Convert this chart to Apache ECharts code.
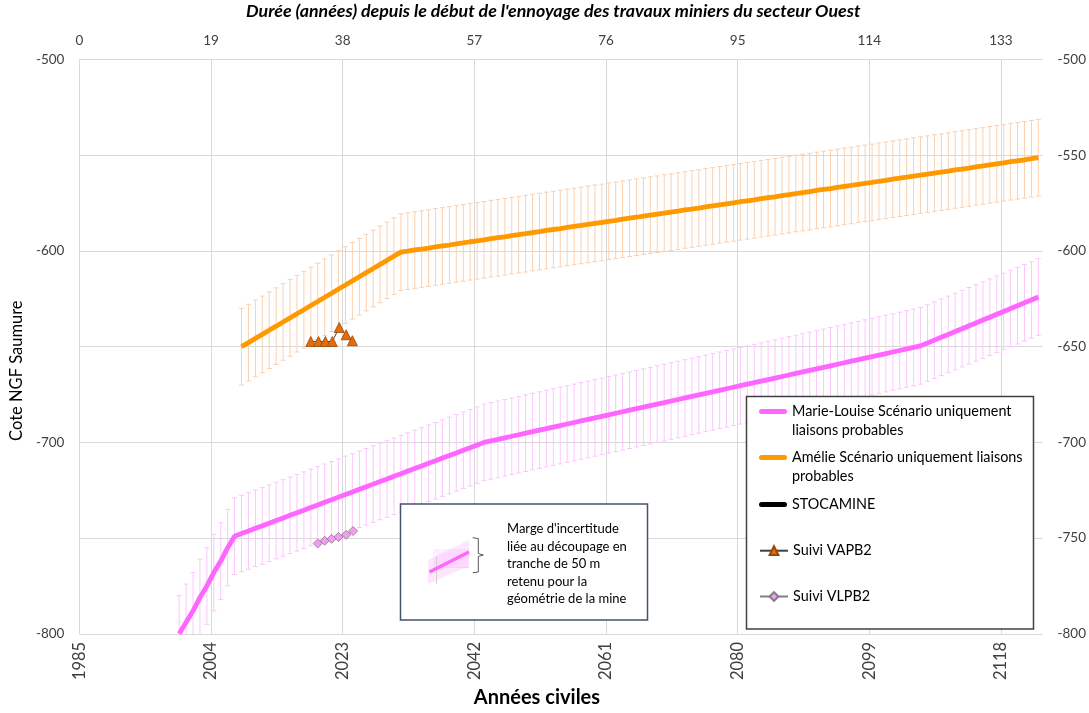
<!DOCTYPE html>
<html><head><meta charset="utf-8">
<script src="https://cdn.jsdelivr.net/npm/echarts@6/dist/echarts.min.js"></script>
<style>html,body{margin:0;padding:0;background:#fff}#c{width:1089px;height:713px}</style>
</head><body><div id="c"></div>
<script>
// ---- data ----
const START_YEAR = 1985;            // début de l'ennoyage (durée 0)
const DUREE_MAX = 139;
const X_INTERVAL = 19;
const UNCERTAINTY = 20;             // marge d'incertitude (m)

const pinkYears = [
  1999.4,2000.4,2001.4,2002.4,2003.4,2004.4,2005.4,2006.4,2007.4,2008.4,
  2009.4,2010.4,2011.4,2012.4,2013.4,2014.4,2015.4,2016.4,2017.4,2018.4,
  2019.4,2020.4,2021.4,2022.4,2023.4,2024.4,2025.4,2026.4,2027.4,2028.4,
  2029.4,2030.4,2031.4,2032.4,2033.4,2034.4,2035.4,2036.4,2037.4,2038.4,
  2039.4,2040.4,2041.4,2042.4,2043.4,2044.4,2045.4,2046.4,2047.4,2048.4,
  2049.4,2050.4,2051.4,2052.4,2053.4,2054.4,2055.4,2056.4,2057.4,2058.4,
  2059.4,2060.4,2061.4,2062.4,2063.4,2064.4,2065.4,2066.4,2067.4,2068.4,
  2069.4,2070.4,2071.4,2072.4,2073.4,2074.4,2075.4,2076.4,2077.4,2078.4,
  2079.4,2080.4,2081.4,2082.4,2083.4,2084.4,2085.4,2086.4,2087.4,2088.4,
  2089.4,2090.4,2091.4,2092.4,2093.4,2094.4,2095.4,2096.4,2097.4,2098.4,
  2099.4,2100.4,2101.4,2102.4,2103.4,2104.4,2105.4,2106.4,2107.4,2108.4,
  2109.4,2110.4,2111.4,2112.4,2113.4,2114.4,2115.4,2116.4,2117.4,2118.4,
  2119.4,2120.4,2121.4,2122.4,2123.4
];
const pinkValues = [
  -800,-794,-788,-781,-775,-768,-762,-755,-749,-747.6,
  -746.3,-744.9,-743.6,-742.2,-740.8,-739.5,-738.1,-736.8,-735.4,-734.0,
  -732.7,-731.3,-730.0,-728.6,-727.2,-725.9,-724.5,-723.2,-721.8,-720.4,
  -719.1,-717.7,-716.4,-715.0,-713.6,-712.3,-710.9,-709.6,-708.2,-706.8,
  -705.5,-704.1,-702.8,-701.4,-700.0,-699.2,-698.4,-697.6,-696.8,-696.0,
  -695.2,-694.4,-693.6,-692.8,-692.0,-691.2,-690.4,-689.6,-688.8,-688.0,
  -687.2,-686.4,-685.6,-684.8,-684.0,-683.2,-682.4,-681.6,-680.8,-680.0,
  -679.2,-678.4,-677.6,-676.8,-676.0,-675.2,-674.4,-673.6,-672.8,-672.0,
  -671.2,-670.4,-669.6,-668.8,-668.0,-667.2,-666.4,-665.6,-664.8,-664.0,
  -663.2,-662.4,-661.6,-660.8,-660.0,-659.2,-658.4,-657.6,-656.8,-656.0,
  -655.2,-654.4,-653.6,-652.8,-652.0,-651.2,-650.4,-649.6,-648.1,-646.6,
  -645.1,-643.6,-642.1,-640.6,-639.1,-637.6,-636.1,-634.6,-633.1,-631.6,
  -630.1,-628.6,-627.1,-625.6,-624.1
];
const orangeYears = [
  2008.4,2009.4,2010.4,2011.4,2012.4,2013.4,2014.4,2015.4,2016.4,2017.4,
  2018.4,2019.4,2020.4,2021.4,2022.4,2023.4,2024.4,2025.4,2026.4,2027.4,
  2028.4,2029.4,2030.4,2031.4,2032.4,2033.4,2034.4,2035.4,2036.4,2037.4,
  2038.4,2039.4,2040.4,2041.4,2042.4,2043.4,2044.4,2045.4,2046.4,2047.4,
  2048.4,2049.4,2050.4,2051.4,2052.4,2053.4,2054.4,2055.4,2056.4,2057.4,
  2058.4,2059.4,2060.4,2061.4,2062.4,2063.4,2064.4,2065.4,2066.4,2067.4,
  2068.4,2069.4,2070.4,2071.4,2072.4,2073.4,2074.4,2075.4,2076.4,2077.4,
  2078.4,2079.4,2080.4,2081.4,2082.4,2083.4,2084.4,2085.4,2086.4,2087.4,
  2088.4,2089.4,2090.4,2091.4,2092.4,2093.4,2094.4,2095.4,2096.4,2097.4,
  2098.4,2099.4,2100.4,2101.4,2102.4,2103.4,2104.4,2105.4,2106.4,2107.4,
  2108.4,2109.4,2110.4,2111.4,2112.4,2113.4,2114.4,2115.4,2116.4,2117.4,
  2118.4,2119.4,2120.4,2121.4,2122.4,2123.4
];
const orangeValues = [
  -650.0,-647.9,-645.7,-643.6,-641.4,-639.3,-637.1,-635.0,-632.8,-630.7,
  -628.5,-626.4,-624.2,-622.1,-619.9,-617.8,-615.6,-613.5,-611.3,-609.2,
  -607.0,-604.9,-602.7,-600.6,-600.1,-599.5,-599.0,-598.5,-597.9,-597.4,
  -596.9,-596.3,-595.8,-595.2,-594.7,-594.2,-593.6,-593.1,-592.6,-592.0,
  -591.5,-591.0,-590.4,-589.9,-589.3,-588.8,-588.3,-587.7,-587.2,-586.7,
  -586.1,-585.6,-585.1,-584.5,-584.0,-583.4,-582.9,-582.4,-581.8,-581.3,
  -580.8,-580.2,-579.7,-579.2,-578.6,-578.1,-577.6,-577.0,-576.5,-575.9,
  -575.4,-574.9,-574.3,-573.8,-573.3,-572.7,-572.2,-571.7,-571.1,-570.6,
  -570.0,-569.5,-569.0,-568.4,-567.9,-567.4,-566.8,-566.3,-565.8,-565.2,
  -564.7,-564.2,-563.6,-563.1,-562.5,-562.0,-561.5,-560.9,-560.4,-559.9,
  -559.3,-558.8,-558.3,-557.7,-557.2,-556.7,-556.1,-555.6,-555.0,-554.5,
  -554.0,-553.4,-552.9,-552.4,-551.8,-551.3
];
const vapbYears  = [2018.4, 2019.5, 2020.5, 2021.5, 2022.5, 2023.5, 2024.4];
const vapbValues = [-647.3, -647.3, -647.3, -647.3, -640.0, -643.8, -646.9];
const vlpbYears  = [2019.4, 2020.4, 2021.4, 2022.4, 2023.5, 2024.5];
const vlpbValues = [-752.8, -751.4, -750.4, -749.4, -748.3, -746.3];

const NAME_ML = 'Marie-Louise Scénario uniquement liaisons probables';
const NAME_AM = 'Amélie Scénario uniquement liaisons probables';
const NAME_ST = 'STOCAMINE';
const NAME_VA = 'Suivi VAPB2';
const NAME_VL = 'Suivi VLPB2';

const FONT = "Lato, 'Liberation Sans', sans-serif";
const PINK = '#FF66FF', ORANGE = '#FF9900';
const PILL = 'path://M2.5,0 L25.5,0 A2.5,2.5 0 0 1 25.5,5 L2.5,5 A2.5,2.5 0 0 1 2.5,0 Z';

// ---- build library structures ----
const toPts = (ys, vs) => ys.map((y, i) => [+(y - START_YEAR).toFixed(2), vs[i]]);
const toBars = (ys, vs) => ys.map((y, i) => [+(y - START_YEAR).toFixed(2), vs[i] - UNCERTAINTY, vs[i] + UNCERTAINTY]);

function errRender(color) {
  return function (params, api) {
    const x = api.value(0), lo = api.value(1), hi = api.value(2);
    const a = api.coord([x, hi]), b = api.coord([x, lo]);
    const hw = 2.5;
    const st = { stroke: color, lineWidth: 1 };
    return { type: 'group', children: [
      { type: 'line', shape: { x1: a[0], y1: a[1], x2: b[0], y2: b[1] }, style: st },
      { type: 'line', shape: { x1: a[0] - hw, y1: a[1], x2: a[0] + hw, y2: a[1] }, style: st },
      { type: 'line', shape: { x1: b[0] - hw, y1: b[1], x2: b[0] + hw, y2: b[1] }, style: st }
    ]};
  };
}

const legendText = { fontSize: 14.4, color: '#000', fontFamily: FONT, lineHeight: 19 };
function mkLegend(name, top, label, icon) {
  const o = {
    data: [name], left: 759, top: top, padding: 0, itemWidth: 28, itemHeight: 11,
    selectedMode: false, z: 20,
    formatter: () => label,
    textStyle: legendText
  };
  if (icon) o.icon = icon;
  return o;
}

const chart = echarts.init(document.getElementById('c'), null, { renderer: 'canvas' });
chart.setOption({
  animation: false,
  backgroundColor: '#fff',
  title: {
    text: "Durée (années) depuis le début de l'ennoyage des travaux miniers du secteur Ouest",
    left: 246, top: 2, padding: 0,
    textStyle: { fontSize: 17.8, fontWeight: 'bold', fontStyle: 'italic', color: '#000', fontFamily: FONT }
  },
  grid: { left: 79, right: 44, top: 59.5, bottom: 74, containLabel: false },
  xAxis: [
    {
      type: 'value', position: 'bottom', min: 0, max: DUREE_MAX, interval: X_INTERVAL,
      axisLine: { show: false }, axisTick: { show: false },
      splitLine: { show: true, showMaxLine: false, lineStyle: { color: '#d9d9d9', width: 1 } },
      axisLabel: { rotate: 90, margin: 8, fontSize: 16.5, color: '#404040', fontFamily: FONT,
        showMaxLabel: false, formatter: v => String(v + START_YEAR) },
      name: 'Années civiles', nameLocation: 'middle', nameGap: 53,
      nameTextStyle: { fontWeight: 'bold', fontSize: 20, color: '#000', fontFamily: FONT, padding: [0, 48, 0, 0] }
    },
    {
      type: 'value', position: 'top', min: 0, max: DUREE_MAX, interval: X_INTERVAL,
      axisLine: { show: false }, axisTick: { show: false }, splitLine: { show: false },
      axisLabel: { margin: 12, fontSize: 13.5, color: '#404040', fontFamily: FONT, showMaxLabel: false }
    }
  ],
  yAxis: [
    {
      type: 'value', position: 'left', min: -800, max: -500, interval: 100,
      axisLine: { show: false }, axisTick: { show: false }, splitLine: { show: false },
      axisLabel: { margin: 15, fontSize: 13.5, color: '#404040', fontFamily: FONT },
      name: 'Cote NGF Saumure', nameLocation: 'middle', nameGap: 54,
      nameTextStyle: { fontSize: 16.5, color: '#000', fontFamily: FONT, padding: [0, 48, 0, 0] }
    },
    {
      type: 'value', position: 'right', min: -800, max: -500, interval: 50,
      axisLine: { show: false }, axisTick: { show: false },
      splitLine: { show: true, lineStyle: { color: '#d9d9d9', width: 1 } },
      axisLabel: { margin: 15, fontSize: 13.5, color: '#404040', fontFamily: FONT }
    }
  ],
  legend: [
    mkLegend(NAME_ML, 383, '\nMarie-Louise Scénario uniquement\nliaisons probables', PILL),
    mkLegend(NAME_AM, 429, '\nAmélie Scénario uniquement liaisons\nprobables', PILL),
    mkLegend(NAME_ST, 495, 'STOCAMINE', PILL),
    mkLegend(NAME_VA, 541.2, 'Suivi VAPB2', null),
    mkLegend(NAME_VL, 587, 'Suivi VLPB2', null)
  ],
  graphic: { elements: [
    { type: 'rect', z: 10, shape: { x: 746.5, y: 396.5, width: 287, height: 232.5 },
      style: { fill: '#fff', stroke: '#404040', lineWidth: 1.5 } },
    { type: 'rect', z: 10, shape: { x: 400.5, y: 504, width: 247, height: 116 },
      style: { fill: '#fff', stroke: '#44546A', lineWidth: 1.5 } },
    { type: 'polygon', z: 11, shape: { points: [[428, 584], [428, 560], [469, 540], [469, 566]] },
      style: { fill: 'rgba(255,140,255,0.22)' } },
    { type: 'rect', z: 11, shape: { x: 433, y: 549, width: 36, height: 18 },
      style: { fill: 'rgba(255,140,255,0.15)' } },
    { type: 'line', z: 11, shape: { x1: 436.5, y1: 557, x2: 436.5, y2: 584 },
      style: { stroke: '#d0d0d0', lineWidth: 1 } },
    { type: 'line', z: 11, shape: { x1: 433, y1: 567.5, x2: 469, y2: 567.5 },
      style: { stroke: '#e0e0e0', lineWidth: 1 } },
    { type: 'line', z: 12, shape: { x1: 429.5, y1: 572, x2: 469, y2: 552 },
      style: { stroke: PINK, lineWidth: 3.5, lineCap: 'butt' } },
    { type: 'polyline', z: 12, shape: { points: [[472.7, 537.7], [478.3, 538.5], [478.3, 553.5], [483.3, 555], [478.3, 556.5], [478.3, 572], [472.7, 572.7]] },
      style: { stroke: '#595959', lineWidth: 1, fill: null } },
    { type: 'text', z: 12, style: {
        text: "Marge d'incertitude\nliée au découpage en\ntranche de 50 m\nretenu pour la\ngéométrie de la mine",
        x: 507, y: 520, fontSize: 13, fontFamily: FONT, lineHeight: 17.6, fill: '#000' } }
  ]},
  series: [
    { type: 'custom', name: 'ML barres', xAxisIndex: 0, yAxisIndex: 0, z: 1, clip: true,
      renderItem: errRender('#FCC6FC'), encode: { x: 0, y: [1, 2] }, data: toBars(pinkYears, pinkValues) },
    { type: 'custom', name: 'AM barres', xAxisIndex: 0, yAxisIndex: 0, z: 1, clip: true,
      renderItem: errRender('#FAD0B0'), encode: { x: 0, y: [1, 2] }, data: toBars(orangeYears, orangeValues) },
    { type: 'line', name: NAME_ML, xAxisIndex: 0, yAxisIndex: 0, z: 3, symbol: 'none', clip: true,
      lineStyle: { color: PINK, width: 4.8 }, itemStyle: { color: PINK }, data: toPts(pinkYears, pinkValues) },
    { type: 'line', name: NAME_AM, xAxisIndex: 0, yAxisIndex: 0, z: 3, symbol: 'none', clip: true,
      lineStyle: { color: ORANGE, width: 4.8 }, itemStyle: { color: ORANGE }, data: toPts(orangeYears, orangeValues) },
    { type: 'line', name: NAME_ST, xAxisIndex: 0, yAxisIndex: 0, z: 3, symbol: 'none',
      lineStyle: { color: '#000', width: 5 }, itemStyle: { color: '#000' }, data: [] },
    { type: 'line', name: NAME_VA, xAxisIndex: 0, yAxisIndex: 0, z: 4, symbol: 'triangle', symbolSize: 10,
      lineStyle: { color: '#404040', width: 1 },
      itemStyle: { color: '#E46C0A', borderColor: '#984807', borderWidth: 0.8 }, data: toPts(vapbYears, vapbValues) },
    { type: 'line', name: NAME_VL, xAxisIndex: 0, yAxisIndex: 0, z: 4, symbol: 'diamond', symbolSize: 9,
      lineStyle: { color: '#808080', width: 1 },
      itemStyle: { color: '#F59BF5', borderColor: '#7f7f7f', borderWidth: 0.8 }, data: toPts(vlpbYears, vlpbValues) }
  ]
});
</script>
</body></html>
